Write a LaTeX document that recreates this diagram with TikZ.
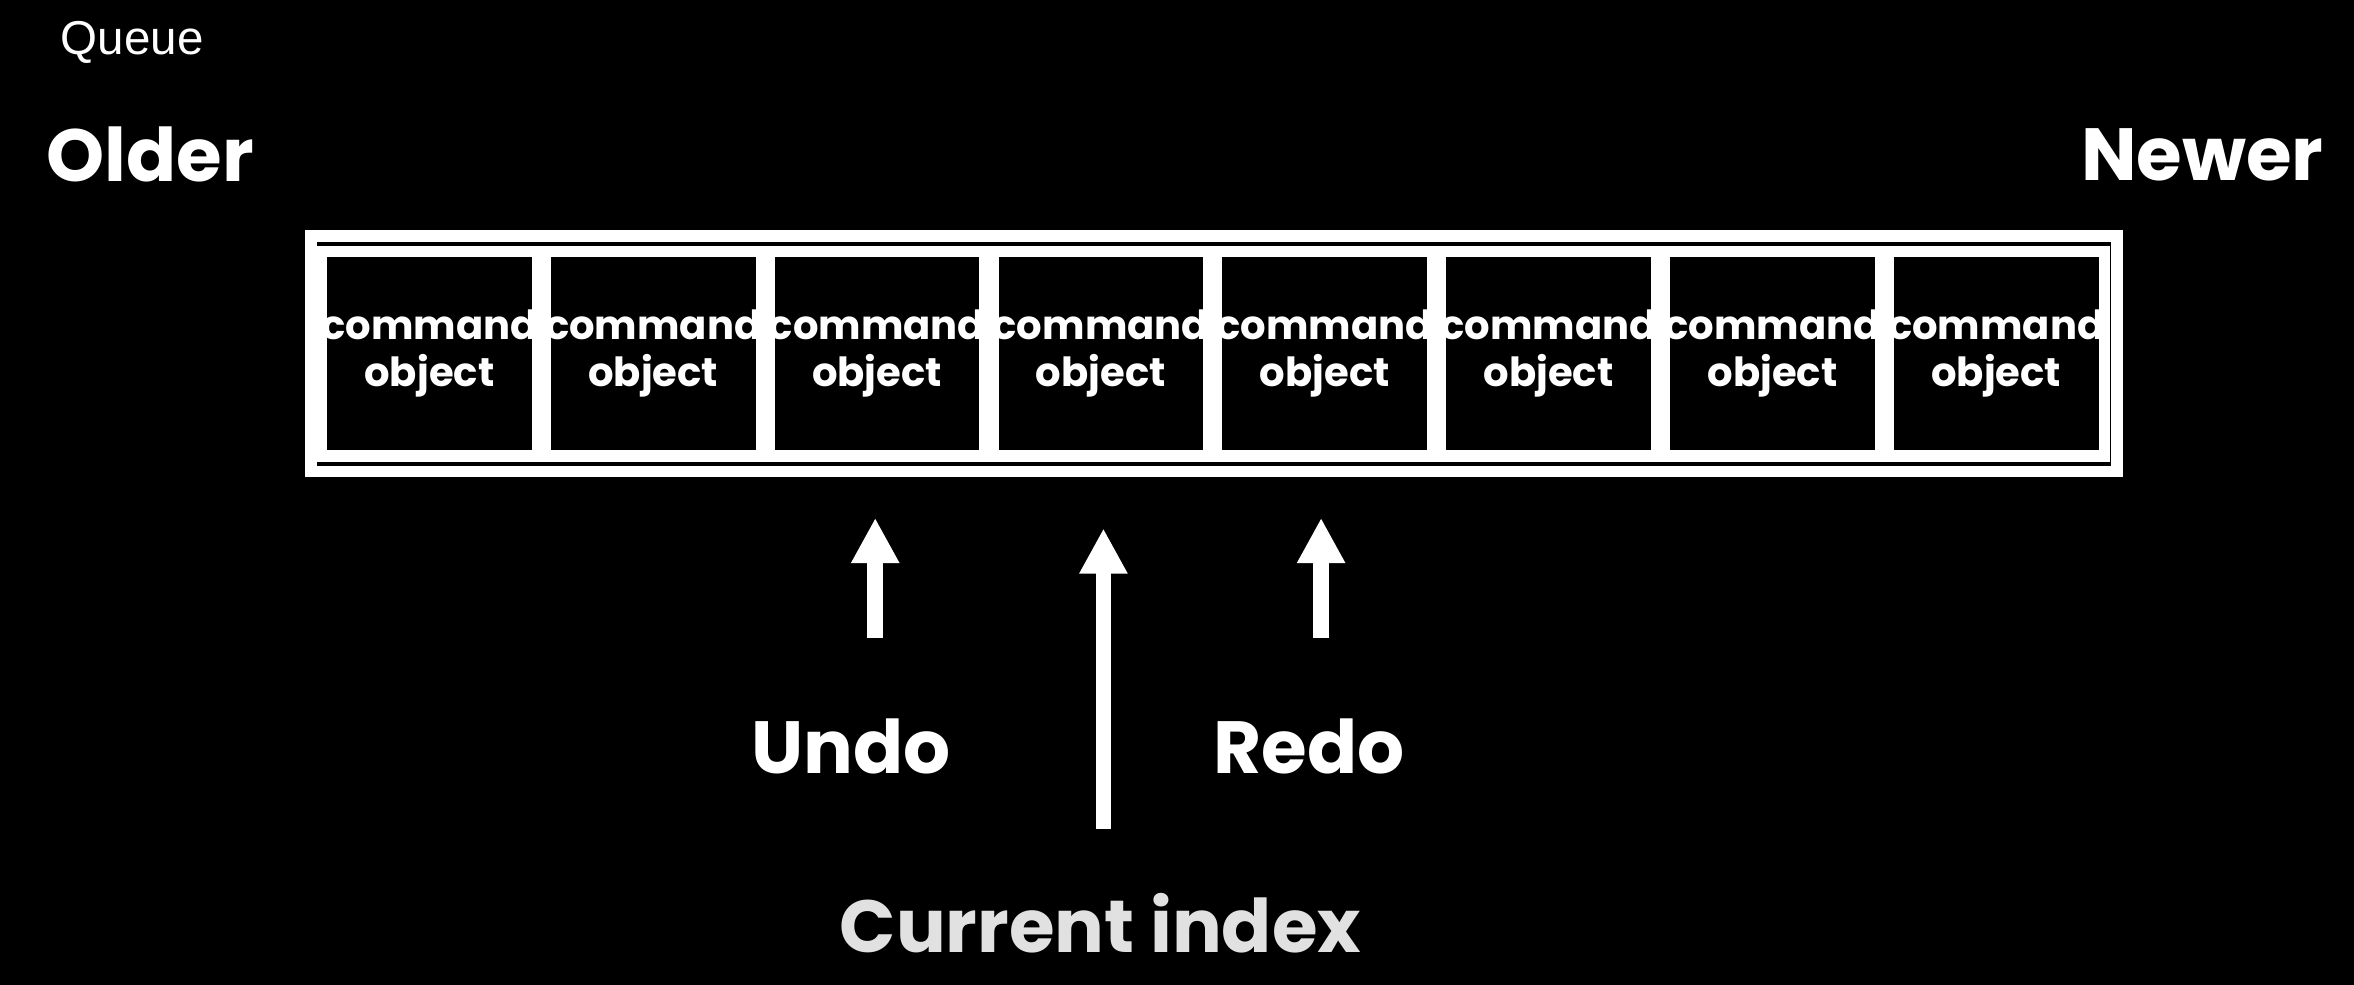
\documentclass[tikz,border=0pt]{standalone}
\usepackage{fontspec}
\setmainfont{Poppins}
\newfontfamily\plainfont{Liberation Sans}
\usetikzlibrary{arrows.meta}
\definecolor{labelgray}{RGB}{225, 225, 225}

\begin{document}
\begin{tikzpicture}[x = 0.01cm, y = -0.01cm, line width = 2.2pt,
  cellbox/.style = {draw = white, fill = black, minimum width = 1.36cm, minimum height = 1.36cm, inner sep = 0pt, align = center, text = white, font = \bfseries\fontsize{7.6}{9}\selectfont},
  bigtext/.style = {text = white, font = \bfseries\fontsize{14}{16}\selectfont},
  uparrow/.style = {white, line width = 3pt, -{Triangle[length = 0.3cm, width = 0.3cm]}}]
\fill[black] (0,0) rectangle (1568,656);
\node[text = white, font = \plainfont\fontsize{9}{11}\selectfont] (queue) at (88,28) {Queue};
\node[bigtext] (older) at (100,103) {Older};
\node[bigtext] (newer) at (1467,103) {Newer};
\draw[white] (207,157) rectangle (1410,314);
\foreach \i in {1,...,8}
{
\pgfmathsetmacro\cx{286 + (\i-1)*149.1}
\node[cellbox] (cell\i) at (\cx,235.5) {command\\object};
}
% labels under the queue
\node[bigtext] (undo) at (567,497) {Undo};
\node[bigtext] (redo) at (872,497) {Redo};
\node[bigtext, text = labelgray] (current) at (733,615) {Current index};
\coordinate (undotail) at (583,425);
\coordinate (redotail) at (880,425);
\coordinate (currenttail) at (735,552);
\draw[uparrow] (undotail) -- (583,345);
\draw[uparrow] (redotail) -- (880,345);
\draw[uparrow] (currenttail) -- (735,352);
\end{tikzpicture}
\end{document}
